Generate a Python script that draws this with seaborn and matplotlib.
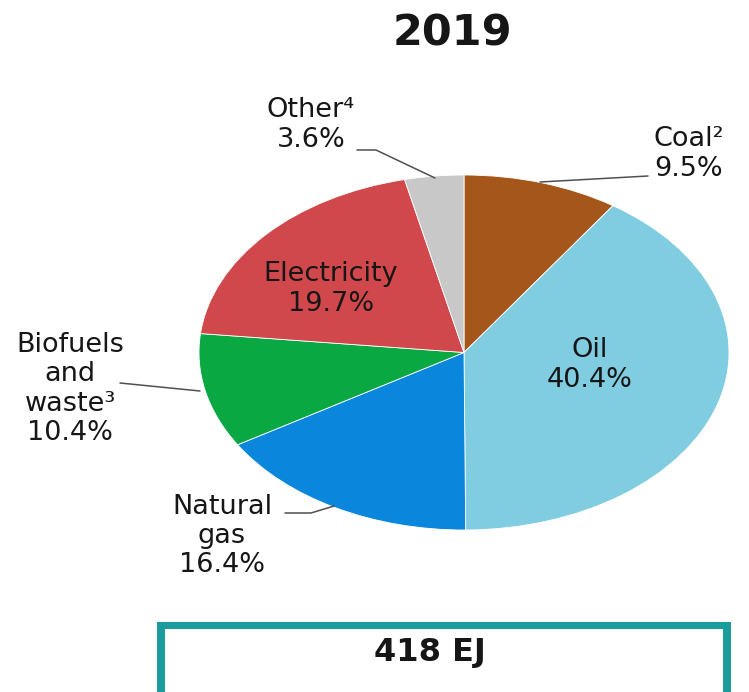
import matplotlib
matplotlib.use("Agg")
import matplotlib.pyplot as plt
from matplotlib.patches import Rectangle
import seaborn as sns

# data
categories = ["Coal", "Oil", "Natural gas", "Biofuels and waste", "Electricity", "Other"]
shares = [9.5, 40.4, 16.4, 10.4, 19.7, 3.6]
label_names = ["Coal\u00b2", "Oil", "Natural\ngas", "Biofuels\nand\nwaste\u00b3", "Electricity", "Other\u2074"]
colors = ["#A5561B", "#80CCE0", "#0A86DC", "#0AA843", "#D1484C", "#C8C8C8"]
year = "2019"
total = "418 EJ"

sns.set_theme(style="white")
plt.rcParams["font.family"] = ["DejaVu Sans"]

W, H = 749, 692
fig = plt.figure(figsize=(W / 100, H / 100), dpi=100)

# pie axes, stretched (ellipse like the reference)
ax = fig.add_axes([199 / W, (H - 530) / H, 530 / W, 355 / H])
ax.pie(shares, colors=colors, startangle=90, counterclock=False,
       wedgeprops=dict(edgecolor="white", linewidth=0.6))
ax.set_aspect("auto")
ax.set_xlim(-1, 1)
ax.set_ylim(-1, 1)
ax.axis("off")

# overlay in pixel coords for labels, leaders and the total box
ov = fig.add_axes([0, 0, 1, 1], facecolor="none")
ov.set_xlim(0, W)
ov.set_ylim(H, 0)
ov.axis("off")

txt = "#161616"
fs = 19.5
lab = {c: f"{n}\n{v}%" for c, n, v in zip(categories, label_names, shares)}
pos = {
    "Other": (311, 125),
    "Coal": (689, 154),
    "Electricity": (331, 289),
    "Oil": (590, 365),
    "Biofuels and waste": (70, 389),
    "Natural gas": (222, 536),
}
for c in categories:
    x, y = pos[c]
    ov.text(x, y, lab[c], ha="center", va="center", fontsize=fs,
            color=txt, linespacing=1.17)

lc = "#505050"
ov.plot([357, 376, 435], [150, 150, 178], color=lc, lw=1.1)
ov.plot([648, 540], [176, 182], color=lc, lw=1.1)
ov.plot([120, 200], [383, 391], color=lc, lw=1.1)
ov.plot([285, 311, 334], [513, 513, 506], color=lc, lw=1.1)

ov.text(452, 33, year, ha="center", va="center", fontsize=31,
        fontweight="bold", color=txt)

# total box: teal frame drawn as outer fill + inner white fill
ov.add_patch(Rectangle((157, 622), 574, 100, facecolor="#1A9C9C", edgecolor="none"))
ov.add_patch(Rectangle((165, 629), 558, 100, facecolor="white", edgecolor="none"))
ov.text(430, 652, total, ha="center", va="center", fontsize=23,
        fontweight="bold", color=txt)

fig.savefig("out.png", dpi=100)
